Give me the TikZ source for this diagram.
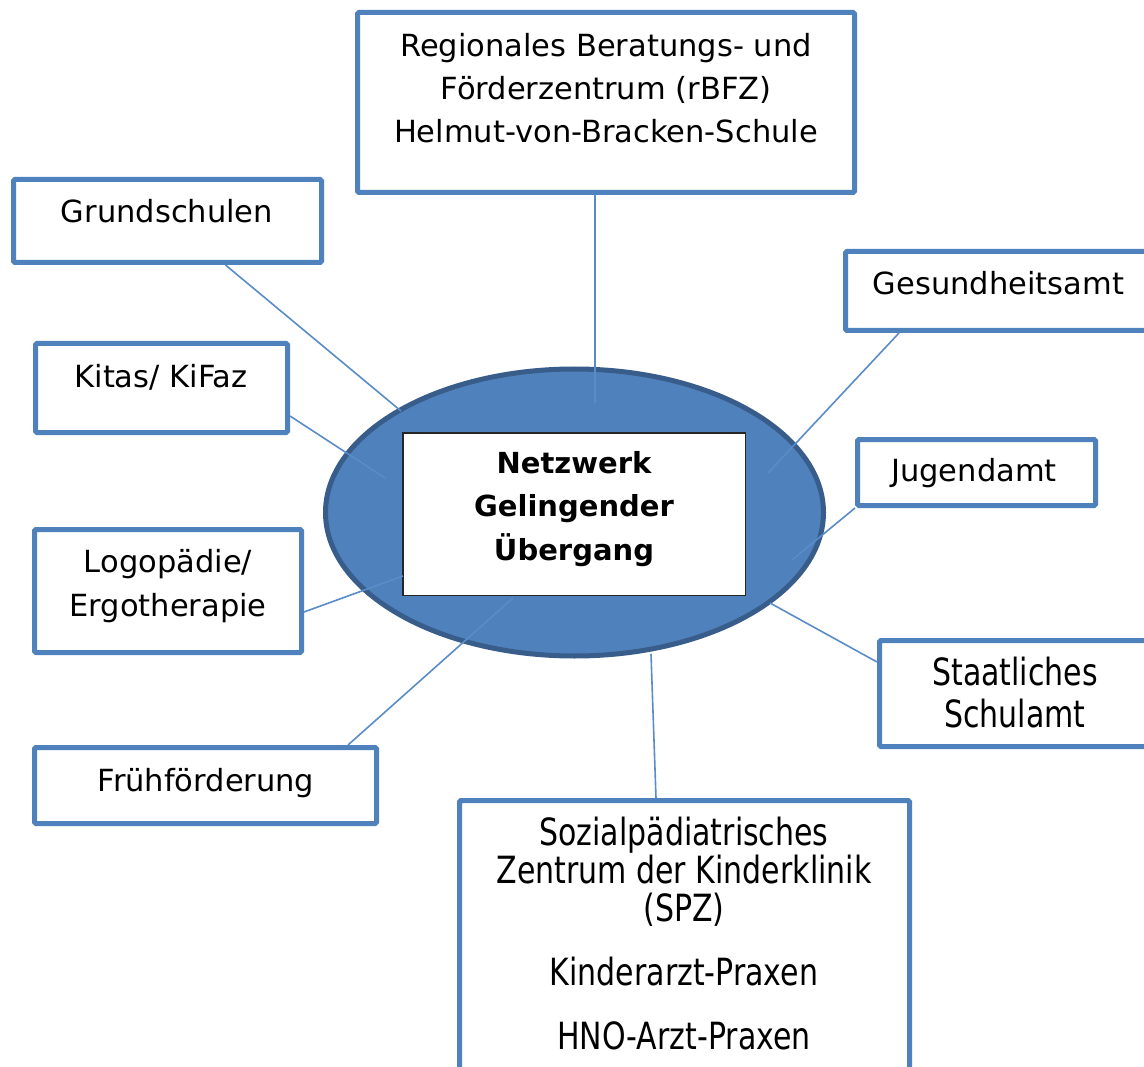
\documentclass[tikz,border=0pt]{standalone}
\usepackage{fontspec}
\setmainfont{DejaVu Sans}
\usepackage{graphicx}
\usetikzlibrary{shapes.geometric}
\definecolor{boxblue}{HTML}{4F81BD}
\definecolor{darkblue}{HTML}{385D8A}
\definecolor{lineblue}{HTML}{5A8CC8}
\newcommand\tl[1]{\scalebox{1}[1.25]{#1}}
\tikzset{
  box/.style={draw=boxblue, line width=5pt, rounded corners=1.5pt, fill=white, inner sep=0pt},
  txt/.style={anchor=north, inner sep=0pt, align=center, font=\fontsize{30.5}{43}\selectfont},
  conn/.style={draw=lineblue, line width=1.6pt},
}
\begin{document}
\begin{tikzpicture}[x=1pt,y=-1pt]
\clip (0,0) rectangle (1144,1067);
\fill[white] (0,0) rectangle (1144,1067);

% central ellipse and inner box
\node[ellipse, draw=darkblue, line width=5pt, fill=boxblue, minimum width=498pt, minimum height=287pt, inner sep=0pt] (ell) at (574.5,512.5) {};
\node[draw=black!85, line width=1.5pt, fill=white, minimum width=342.5pt, minimum height=162.5pt, inner sep=0pt] (core) at (574,514) {};
\node[txt, font=\fontsize{29}{43.5}\selectfont\bfseries] (coretxt) at (574,451) {Netzwerk\\Gelingender\\Übergang};

% inner ends of the connectors
\coordinate (e-rbfz) at (595,403);
\coordinate (e-grund) at (401,411);
\coordinate (e-kitas) at (385,478);
\coordinate (e-logo) at (403,576);
\coordinate (e-frueh) at (513,598);
\coordinate (e-spz) at (651,654);
\coordinate (e-staat) at (770,603);
\coordinate (e-jugend) at (792,560);
\coordinate (e-gesund) at (768,473);

% boxes
\node[box, minimum width=497pt, minimum height=180pt] (rbfz) at (606,102.5) {};
\node[box, minimum width=308pt, minimum height=83pt] (grund) at (167.5,221) {};
\node[box, minimum width=252pt, minimum height=89pt] (kitas) at (161.5,388) {};
\node[box, minimum width=267pt, minimum height=123pt] (logo) at (168,591) {};
\node[box, minimum width=342pt, minimum height=76pt] (frueh) at (205.5,785.5) {};
\node[box, minimum width=322pt, minimum height=79pt] (gesund) at (1006.5,291) {};
\node[box, minimum width=238pt, minimum height=66pt] (jugend) at (976.5,472.5) {};
\node[box, minimum width=288pt, minimum height=106pt] (staat) at (1023.5,693.5) {};
\node[box, minimum width=450pt, minimum height=297pt] (spz) at (684.5,949) {};

% connectors
\draw[conn] ([xshift=-11]rbfz.south) -- (e-rbfz);
\draw[conn] ([xshift=58]grund.south) -- (e-grund);
\draw[conn] ([yshift=-28]kitas.east) -- (e-kitas);
\draw[conn] ([yshift=-21]logo.east) -- (e-logo);
\draw[conn] ([xshift=142.5]frueh.north) -- (e-frueh);
\draw[conn] ([xshift=-28.5]spz.north) -- (e-spz);
\draw[conn] ([yshift=31.5]staat.west) -- (e-staat);
\draw[conn] (jugend.south west) -- (e-jugend);
\draw[conn] ([xshift=-107.5]gesund.south) -- (e-gesund);

% texts
\node[txt] (rbfztxt) at (606,33) {Regionales Beratungs- und\\Förderzentrum (rBFZ)\\Helmut-von-Bracken-Schule};
\node[txt] (grundtxt) at (167,199) {Grundschulen};
\node[txt] (kitastxt) at (161,364) {Kitas/ KiFaz};
\node[txt, font=\fontsize{30.5}{44}\selectfont] (logotxt) at (168,549) {Logopädie/\\Ergotherapie};
\node[txt] (fruehtxt) at (206,768) {Frühförderung};
\node[txt] (gesundtxt) at (998.5,271) {Gesundheitsamt};
\node[txt] (jugendtxt) at (974,458.5) {Jugendamt};
\node[txt, font=\fontsize{30}{42}\selectfont] (staattxt) at (1015,657) {\tl{Staatliches}\\\tl{Schulamt}};
\node[txt, font=\fontsize{30}{38}\selectfont] (spztxt) at (684,817) {\tl{Sozialpädiatrisches}\\\tl{Zentrum der Kinderklinik}\\\tl{(SPZ)}\\[26pt]\tl{Kinderarzt-Praxen}\\[26pt]\tl{HNO-Arzt-Praxen}};
\end{tikzpicture}
\end{document}
